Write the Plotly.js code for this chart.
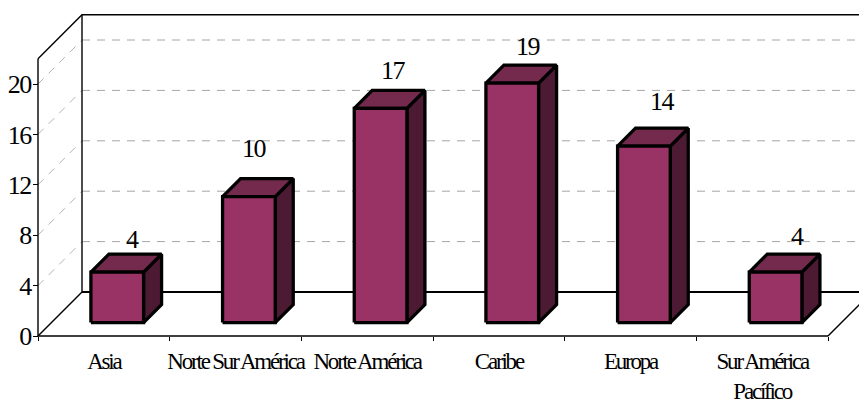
<!DOCTYPE html>
<html><head><meta charset="utf-8">
<script src="https://cdn.plot.ly/plotly-3.0.1.min.js"></script>
<style>
html,body{margin:0;padding:0;background:#fff;overflow:hidden}
#chart{width:859px;height:401px}
.xtick text,text.xtick{letter-spacing:-2.2px}
.ytick text,text.ytick{letter-spacing:-1.5px}
.annotation-text{letter-spacing:-1.5px}
</style></head><body><div id="chart"></div>
<script>
const categories = ["Asia","Norte Sur América","Norte América","Caribe","Europa","Sur América<br>Pacífico"];
const values = [4,10,17,19,14,4];
const valueTicks = [0,4,8,12,16,20];
const gridValues = [4,8,12,16,20];
const labelNudgeX = [15,6,13,16,19,22];
const labelNudgeY = [33,48,38,37,45,36];

const W=859,H=401,M={l:30,r:0,t:0,b:60};
const pxX=131.67, pxY=12.6;                  // pixels per category / per value
const n=categories.length, maxY=22;
const ux=1/pxX, uy=1/pxY;                    // data units per pixel
const padL=8, padB=5;                        // room around the axes so their lines are not cut
const xRange=[-padL*ux,(W-M.l-padL)*ux], yRange=[-padB*uy,(H-M.b-padB)*uy];
const wallX=44*ux, wallY=44*uy;
const gapD=13.4, barD=18, barW=0.4;

function faces(){
  const front={x:[],y:[]},top={x:[],y:[]},side={x:[],y:[]};
  const add=(o,xs,ys)=>{o.x.push(...xs,xs[0],null);o.y.push(...ys,ys[0],null);};
  values.forEach((v,i)=>{
    const x0=i+0.5-barW/2+gapD*ux, x1=x0+barW;
    const b=gapD*uy, t=v+gapD*uy, dx=barD*ux, dy=barD*uy;
    add(front,[x0,x1,x1,x0],[b,b,t,t]);
    add(top,[x0,x1,x1+dx,x0+dx],[t,t,t+dy,t+dy]);
    add(side,[x1,x1+dx,x1+dx,x1],[b,b+dy,t+dy,t]);
  });
  return {front,top,side};
}
const f=faces();
let gridX=[],gridY=[],sideX=[],sideY=[];
gridValues.forEach(v=>{
  gridX.push(wallX,n+wallX,null);gridY.push(v+wallY,v+wallY,null);
  sideX.push(0,wallX,null);sideY.push(v,v+wallY,null);
});
const line=(x,y,w,c,dash)=>({type:'scatter',mode:'lines',x,y,hoverinfo:'skip',
  line:{color:c,width:w,dash:dash||'solid',simplify:false}});
const poly=(o,c)=>({type:'scatter',mode:'lines',x:o.x,y:o.y,fill:'toself',fillcolor:c,
  hoverinfo:'skip',line:{color:'#000',width:3.3,simplify:false}});
const traces=[
  line(gridX,gridY,1,'#a6a6a6','8px,7px'),
  line(sideX,sideY,1,'#b4b4b4','8px,7px'),
  line([0,wallX,n+wallX,null,wallX,wallX,null,0,wallX,null,n,n+wallX,null,0,0,null,0,n],
       [maxY,maxY+wallY,maxY+wallY,null,maxY+wallY,wallY,null,0,wallY,null,0,wallY,null,0,maxY,null,0,0],1.4,'#000'),
  line([wallX,n+wallX],[wallY,wallY],2,'#000'),
  poly(f.side,'#4d1a33'),poly(f.top,'#732a4d'),poly(f.front,'#993366'),
  {type:'scatter',mode:'none',x:[0,n],y:[0,0],xaxis:'x2',yaxis:'y',hoverinfo:'skip'}
];
const font={family:'"Liberation Serif",serif',color:'#000'};
const annotations=values.map((v,i)=>({
  x:i+0.5+gapD*ux,y:v+gapD*uy,text:String(v),showarrow:false,xanchor:'center',yanchor:'middle',
  xshift:labelNudgeX[i],yshift:labelNudgeY[i],font:{...font,size:26}
}));
const xPos=padB/(H-M.b), yPos=padL/(W-M.l);
const layout={
  width:W,height:H,margin:M,paper_bgcolor:'#fff',plot_bgcolor:'rgba(0,0,0,0)',showlegend:false,
  hovermode:false,annotations,
  xaxis:{range:xRange,anchor:'free',position:xPos,tickvals:categories.map((c,i)=>i+0.5),ticktext:categories,ticks:'',
    ticklabelstandoff:9,showline:false,showgrid:false,zeroline:false,tickfont:{...font,size:23},tickangle:0},
  xaxis2:{range:xRange,overlaying:'x',anchor:'free',position:xPos,side:'bottom',tickvals:[0,1,2,3,4,5,6],
    showticklabels:false,ticks:'outside',ticklen:4,tickwidth:1,tickcolor:'#000',showline:false,showgrid:false,zeroline:false},
  yaxis:{range:yRange,anchor:'free',position:yPos,tickvals:valueTicks,ticks:'outside',ticklen:5,tickwidth:1,tickcolor:'#000',
    showline:false,showgrid:false,zeroline:false,tickfont:{...font,size:26},ticklabelstandoff:-3}
};
Plotly.newPlot('chart',traces,layout,{displayModeBar:false,staticPlot:true});
</script></body></html>
